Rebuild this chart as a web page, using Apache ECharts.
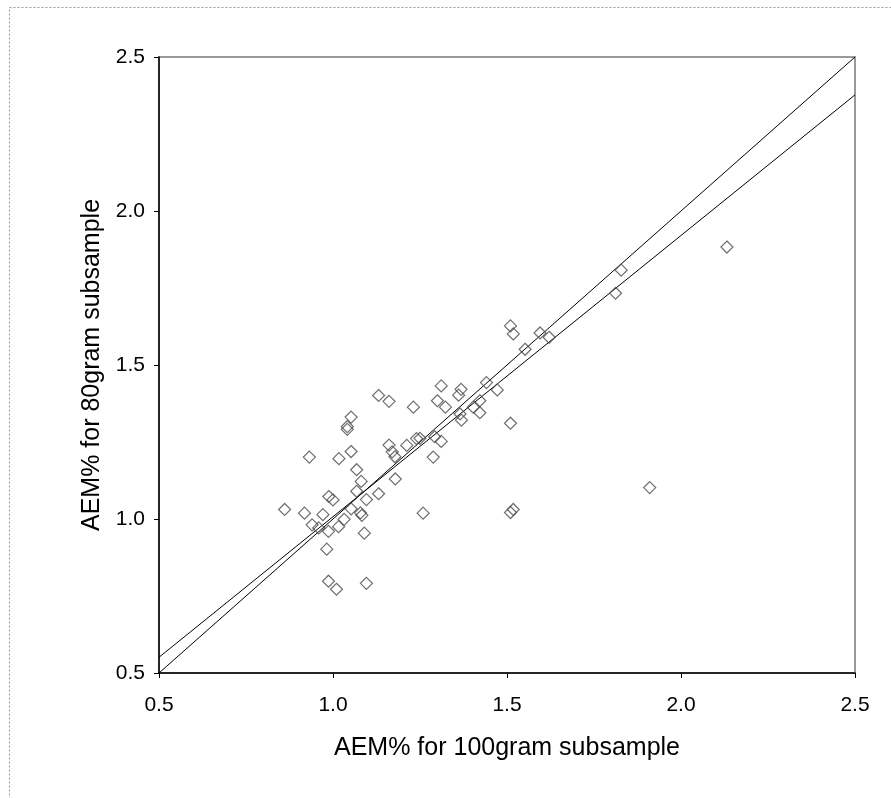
<!DOCTYPE html>
<html>
<head>
<meta charset="utf-8">
<script src="https://cdn.jsdelivr.net/npm/echarts@6/dist/echarts.min.js"></script>
<style>
html,body{margin:0;padding:0;background:#fff;}
#chart{width:891px;height:798px;}
</style>
</head>
<body>
<div id="chart"></div>
<script>
// AEM% for 100gram subsample (x) and 80gram subsample (y)
var aem100 = [0.861,0.918,0.932,0.940,0.959,0.971,0.982,0.987,0.988,1.000,0.987,1.010,1.016,1.017,1.032,1.041,1.041,1.052,1.052,1.052,1.068,1.081,1.068,1.079,1.083,1.090,1.096,1.096,1.131,1.131,1.161,1.161,1.170,1.178,1.179,1.212,1.231,1.240,1.250,1.259,1.288,1.292,1.300,1.311,1.311,1.323,1.361,1.368,1.365,1.369,1.403,1.422,1.422,1.441,1.472,1.510,1.518,1.510,1.510,1.518,1.552,1.595,1.621,1.812,1.828,1.910,2.132];
var aem80  = [1.031,1.019,1.201,0.981,0.971,1.014,0.902,0.960,1.073,1.062,0.798,0.772,0.975,1.196,0.999,1.300,1.291,1.331,1.219,1.033,1.160,1.122,1.090,1.020,1.012,0.954,1.063,0.791,1.082,1.401,1.382,1.240,1.218,1.202,1.130,1.239,1.363,1.261,1.262,1.019,1.201,1.267,1.384,1.432,1.252,1.363,1.402,1.421,1.341,1.321,1.363,1.384,1.345,1.443,1.419,1.627,1.601,1.311,1.021,1.031,1.551,1.604,1.590,1.733,1.808,1.102,1.883];
// Reference lines: 1:1 line and fitted line
var lineX     = [0.5, 2.5];
var identityY = [0.5, 2.5];
var fitY      = [0.551, 2.377];
var tickValues = [0.5, 1.0, 1.5, 2.0, 2.5];

var pts = aem100.map(function(v,i){ return [v, aem80[i]]; });
var idLine = lineX.map(function(v,i){ return [v, identityY[i]]; });
var fitLine = lineX.map(function(v,i){ return [v, fitY[i]]; });

var font = '"Liberation Sans", Arial, sans-serif';
var chart = echarts.init(document.getElementById('chart'), null, {renderer:'canvas'});
chart.setOption({
  animation:false,
  backgroundColor:'#fff',
  graphic:[{type:'rect', left:7, top:5, shape:{width:900, height:820},
    style:{fill:'none', stroke:'#999', lineWidth:1, lineDash:[2,2]}, z:-1}],
  grid:{left:159, right:36, top:57, bottom:125, show:true, borderColor:'#999', borderWidth:2, backgroundColor:'transparent'},
  xAxis:{type:'value', min:0.5, max:2.5, interval:0.5,
    name:'AEM% for 100gram subsample', nameLocation:'middle', nameGap:63,
    nameTextStyle:{fontFamily:font, fontSize:25, color:'#000'},
    axisLine:{show:true, onZero:false, lineStyle:{color:'#000', width:1.5}},
    axisTick:{show:true, inside:false, length:5, lineStyle:{color:'#000', width:1}},
    axisLabel:{margin:22, fontFamily:font, fontSize:21, color:'#000',
      formatter:function(v){ return tickValues.indexOf(v)>=0 ? v.toFixed(1) : ''; }},
    splitLine:{show:false}},
  yAxis:{type:'value', min:0.5, max:2.5, interval:0.5,
    name:'AEM% for 80gram subsample', nameLocation:'middle', nameGap:53,
    nameTextStyle:{fontFamily:font, fontSize:25, color:'#000'},
    axisLine:{show:true, onZero:false, lineStyle:{color:'#000', width:1.5}},
    axisTick:{show:true, inside:false, length:5, lineStyle:{color:'#000', width:1}},
    axisLabel:{margin:14, fontFamily:font, fontSize:21, color:'#000',
      formatter:function(v){ return tickValues.indexOf(v)>=0 ? v.toFixed(1) : ''; }},
    splitLine:{show:false}},
  series:[
    {type:'line', data:idLine, symbol:'none', lineStyle:{color:'#000', width:1}, silent:true, z:3},
    {type:'line', data:fitLine, symbol:'none', lineStyle:{color:'#000', width:1}, silent:true, z:3},
    {type:'scatter', data:pts, symbol:'diamond', symbolSize:12,
      itemStyle:{color:'rgba(0,0,0,0)', borderColor:'#4a4a4a', borderWidth:1.2}, z:4}
  ]
});
</script>
</body>
</html>
